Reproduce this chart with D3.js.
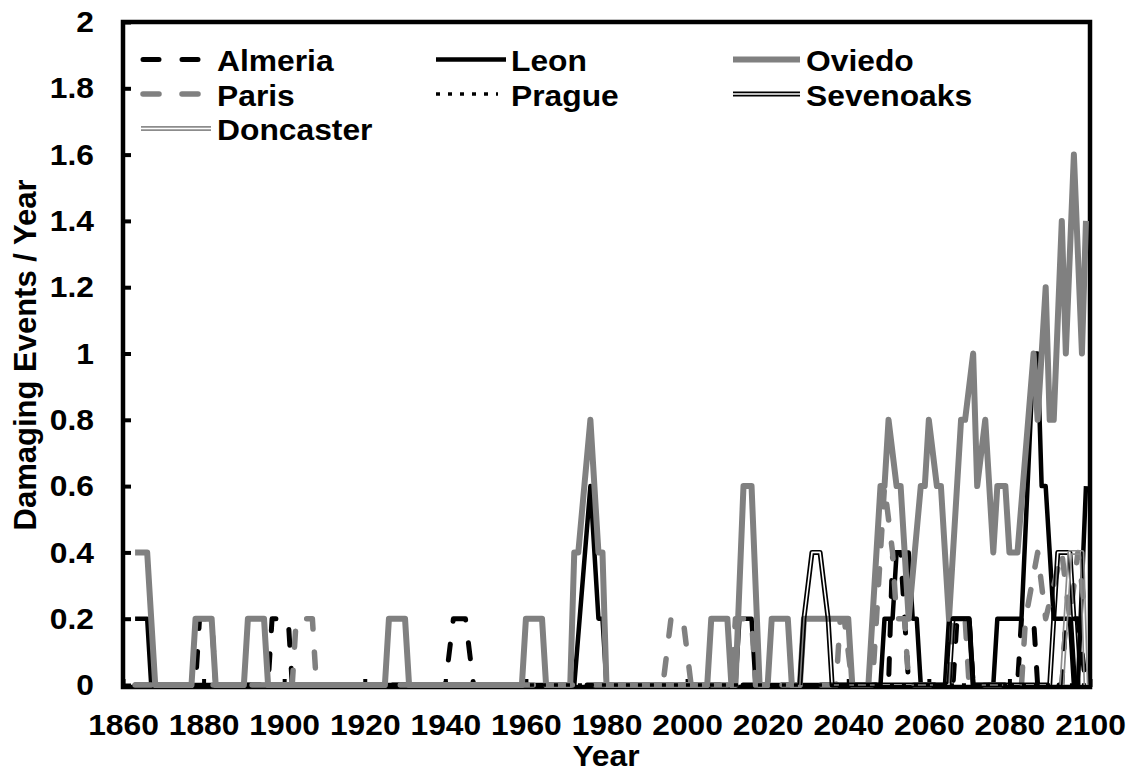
<!DOCTYPE html>
<html>
<head>
<meta charset="utf-8">
<script src="https://cdn.jsdelivr.net/npm/d3@7"></script>
<style>
  body { margin: 0; background: #fff; }
  text { font-family: Arial, "Liberation Sans", sans-serif; font-weight: bold; fill: #000; }
</style>
</head>
<body>
<svg id="chart" width="1139" height="774"></svg>
<script>
// line vertices: [year, damaging events per year]
var almeria = [[1863,0],[1878,0],[1879,0.2],[1882,0.2],[1883,0],[1896,0],[1897,0.2],[1901,0.2],[1902,0],
  [1940,0],[1942,0.2],[1945,0.2],[1947,0],[2050,0],[2051,0.4],[2053,0.4],[2055,0],[2066,0],[2067,0.2],[2070,0.2],[2071,0],
  [2082,0],[2083,0.2],[2086,0.2],[2087,0],[2093,0],[2094,0.2],[2097,0.2],[2099,0]];
var leon = [[1863,0.2],[1866,0.2],[1867,0],[1972,0],[1976,0.6],[1978,0.2],[1979,0.2],[1980,0],[2012,0],[2013,0.2],[2016,0.2],[2017,0],
  [2048,0],[2049,0.2],[2051,0.2],[2052,0.4],[2055,0.4],[2056,0.2],[2057,0.2],[2058,0],[2064,0],[2065,0.2],[2070,0.2],[2071,0],
  [2076,0],[2077,0.2],[2083,0.2],[2086,1.0],[2087,1.0],[2088,0.6],[2089,0.6],[2091,0.2],[2095,0.2],[2096,0],[2097,0],[2099,0.6]];
var oviedo = [[1863,0.4],[1866,0.4],[1868,0],[1877,0],[1878,0.2],[1882,0.2],[1883,0],[1890,0],[1891,0.2],[1895,0.2],[1896,0],
  [1925,0],[1926,0.2],[1930,0.2],[1931,0],[1959,0],[1960,0.2],[1964,0.2],[1965,0],[1971,0],[1972,0.4],[1973,0.4],[1976,0.8],
  [1978,0.4],[1979,0.4],[1980,0],[2005,0],[2006,0.2],[2010,0.2],[2011,0],[2012,0],[2014,0.6],[2016,0.6],[2018,0],[2020,0],
  [2021,0.2],[2025,0.2],[2026,0],[2028,0],[2029,0.2],[2040,0.2],[2041,0],[2045,0],[2048,0.6],[2049,0.6],[2050,0.8],[2052,0.6],
  [2053,0.6],[2055,0.2],[2058,0.6],[2059,0.6],[2060,0.8],[2062,0.6],[2063,0.6],[2065,0.2],[2068,0.8],[2069,0.8],[2071,1.0],
  [2072,0.6],[2074,0.8],[2076,0.4],[2077,0.6],[2079,0.6],[2080,0.4],[2082,0.4],[2086,1.0],[2087,0.8],[2089,1.2],[2090,0.8],
  [2091,0.8],[2093,1.4],[2094,1.0],[2096,1.6],[2098,1.0],[2099,1.4]];
var paris = [[1863,0],[1902,0],[1903,0.2],[1907,0.2],[1908,0],[1994,0],[1996,0.2],[1999,0.2],[2001,0],[2011,0],[2012,0.2],
  [2016,0.2],[2017,0],[2037,0],[2038,0.2],[2039,0.2],[2041,0],[2046,0],[2048,0.4],[2049,0.6],[2051,0.4],[2052,0.2],[2054,0.2],
  [2055,0],[2065,0],[2066,0.2],[2069,0.2],[2070,0],[2083,0],[2084,0.2],[2087,0.4],[2089,0.2],[2093,0.4],[2095,0.2],[2097,0.4],[2099,0.2]];
var prague = [[1961,0],[2099,0]];
var sevenoaks = [[2028,0],[2029,0.2],[2031,0.4],[2033,0.4],[2035,0.2],[2036,0],[2065,0],[2066,0.2],[2070,0.2],[2071,0],
  [2090,0],[2091,0.2],[2092,0.4],[2095,0.4],[2096,0.2],[2097,0]];
var doncaster = [[2093,0],[2095,0.4],[2098,0.4],[2099,0]];

var seriesNames = ["Almeria", "Leon", "Oviedo", "Paris", "Prague", "Sevenoaks", "Doncaster"];
var xTicks = [1860,1880,1900,1920,1940,1960,1980,2000,2020,2040,2060,2080,2100];
var yTicks = [0,0.2,0.4,0.6,0.8,1,1.2,1.4,1.6,1.8,2];

var series = [
  {name: "Almeria", data: almeria, color: "#000", width: 5, dash: "16,23", cap: "round"},
  {name: "Leon", data: leon, color: "#000", width: 4.5},
  {name: "Oviedo", data: oviedo, color: "#808080", width: 6},
  {name: "Paris", data: paris, color: "#808080", width: 5.5, dash: "16,23", cap: "round"},
  {name: "Prague", data: prague, color: "#000", width: 3.5, dash: "4,8"},
  {name: "Sevenoaks", data: sevenoaks, color: "#000", width: 5, double: true},
  {name: "Doncaster", data: doncaster, color: "#8c8c8c", width: 5, double: true}
];

var svg = d3.select("svg#chart");
var x = d3.scaleLinear().domain([1860, 2100]).range([123, 1090]);
var y = d3.scaleLinear().domain([0, 2]).range([685, 22]);

var line = d3.line().x(d => x(d[0])).y(d => y(d[1]));
var stretch = 1.06; // the reference glyphs are a little wider than Arial

// plot frame
svg.append("rect")
  .attr("x", 123).attr("y", 22)
  .attr("width", 1090 - 123).attr("height", 687 - 22)
  .attr("fill", "none").attr("stroke", "#000").attr("stroke-width", 4.5);

// axes, ticks pointing inward
var yAxis = d3.axisLeft(y).tickValues(yTicks).tickSize(-8).tickPadding(29)
  .tickFormat(d => String(+d.toFixed(1)));
var gy = svg.append("g").attr("transform", "translate(123,0)").call(yAxis);
gy.select(".domain").remove();
gy.selectAll("line").attr("stroke", "#000").attr("stroke-width", 4);
gy.selectAll("text").style("font-size", "30px")
  .attr("x", -29 / stretch).attr("transform", "scale(" + stretch + ",1)");

var xAxis = d3.axisBottom(x).tickValues(xTicks).tickSize(-8).tickPadding(27).tickFormat(d3.format("d"));
var gx = svg.append("g").attr("transform", "translate(0,687)").call(xAxis);
gx.select(".domain").remove();
gx.selectAll("line").attr("stroke", "#000").attr("stroke-width", 4);
gx.selectAll("text").style("font-size", "30px").attr("transform", "scale(" + stretch + ",1)");

// masks so that the double lines keep a see-through centre
var defs = svg.append("defs");
var maskCount = 0;

function drawSeries(g, s, pathData) {
  if (s.double) {
    var id = "mask" + (maskCount++);
    var m = defs.append("mask").attr("id", id).attr("maskUnits", "userSpaceOnUse")
      .attr("x", 0).attr("y", 0).attr("width", 1139).attr("height", 774);
    m.append("path").attr("d", pathData).attr("fill", "none").attr("stroke", "#fff")
      .attr("stroke-width", s.width + 2).attr("stroke-linejoin", "round");
    m.append("path").attr("d", pathData).attr("fill", "none").attr("stroke", "#000")
      .attr("stroke-width", 1.6).attr("stroke-linejoin", "round");
    g.append("path").attr("d", pathData).attr("fill", "none").attr("stroke", s.color)
      .attr("stroke-width", s.width).attr("stroke-linejoin", "round").attr("mask", "url(#" + id + ")");
  } else {
    g.append("path").attr("d", pathData).attr("fill", "none").attr("stroke", s.color)
      .attr("stroke-width", s.width).attr("stroke-linejoin", "round")
      .attr("stroke-linecap", s.cap || "butt")
      .attr("stroke-dasharray", s.dash || null);
  }
}

var plot = svg.append("g");
series.forEach(function(s) {
  drawSeries(plot, s, line(s.data));
});

// legend, three columns
var legCols = [{x0: 141, x1: 211, tx: 217}, {x0: 436, x1: 506, tx: 511}, {x0: 733, x1: 800, tx: 806}];
var legRows = [59.5, 94, 128.5];
var legend = svg.append("g");
series.forEach(function(s, i) {
  var c = legCols[i % 3], r = legRows[Math.floor(i / 3)];
  var d = "M" + c.x0 + "," + r + "L" + c.x1 + "," + r;
  if (s.dash && s.cap) d = "M" + (c.x0 + 2) + "," + r + "L" + (c.x1 - 9) + "," + r;
  if (s.name === "Prague") d = "M" + c.x0 + "," + r + "L" + (c.x1 - 8) + "," + r;
  drawSeries(legend, s, d);
  legend.append("text").attr("transform", "translate(" + c.tx + "," + (r + 11.5) + ") scale(" + stretch + ",1)")
    .style("font-size", "30px").text(s.name);
});

// axis titles
svg.append("text").attr("transform", "translate(606,766) scale(" + stretch + ",1)").attr("text-anchor", "middle")
  .style("font-size", "30px").text("Year");
svg.append("text").attr("transform", "translate(36,355) rotate(-90)").attr("text-anchor", "middle")
  .style("font-size", "31px").text("Damaging Events / Year");
</script>
</body>
</html>
